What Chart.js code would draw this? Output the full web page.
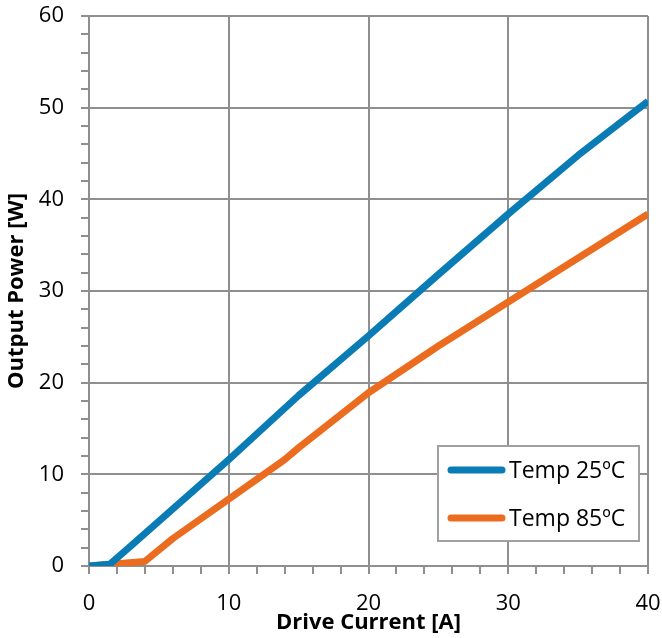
<!DOCTYPE html>
<html>
<head>
<meta charset="utf-8">
<script src="https://cdn.jsdelivr.net/npm/chart.js@4"></script>
<style>
  html, body { margin: 0; padding: 0; background: #ffffff; }
  #wrap { width: 662px; height: 638px; position: relative; }
</style>
</head>
<body>
<div id="wrap"><canvas id="c" width="662" height="638"></canvas></div>
<script>
// ---- data ----
const seriesLabels = ['Temp 25ºC', 'Temp 85ºC'];
const current25 = [0, 1.5, 3, 10, 15, 20, 25, 30, 35, 40];
const power25   = [0, 0.2, 2.2, 11.6, 18.6, 25.1, 31.8, 38.4, 44.8, 50.7];
const current85 = [0, 4, 6, 10, 14, 15, 20, 25, 30, 35, 40];
const power85   = [0, 0.5, 3.0, 7.3, 11.6, 12.9, 18.9, 24.0, 28.8, 33.6, 38.4];
const xTickMajor = [0, 10, 20, 30, 40];
const yTickMajor = [0, 10, 20, 30, 40, 50, 60];
const xTitle = 'Drive Current [A]';
const yTitle = 'Output Power [W]';

const BLUE = '#0a7cb5';
const ORANGE = '#eb6c1f';
const GRID = '#8f8f8f';
const FONT = '"Open Sans", "Liberation Sans", sans-serif';

function pts(xs, ys) { return xs.map((x, i) => ({ x: x, y: ys[i] })); }

const insideLegend = {
  id: 'insideLegend',
  afterDraw(chart) {
    const ctx = chart.ctx;
    const a = chart.chartArea;
    const bx = a.right - 210, by = a.bottom - 120, bw = 201, bh = 95;
    ctx.save();
    ctx.fillStyle = '#ffffff';
    ctx.fillRect(bx, by, bw, bh);
    ctx.strokeStyle = '#a0a0a0';
    ctx.lineWidth = 2;
    ctx.strokeRect(bx, by, bw, bh);
    ctx.font = '23px ' + FONT;
    ctx.textBaseline = 'middle';
    ctx.fillStyle = '#000000';
    chart.data.datasets.forEach((ds, i) => {
      const cy = by + 24 + i * 48;
      ctx.strokeStyle = ds.borderColor;
      ctx.lineWidth = 7;
      ctx.lineCap = 'round';
      ctx.beginPath();
      ctx.moveTo(bx + 13, cy);
      ctx.lineTo(bx + 64, cy);
      ctx.stroke();
      ctx.fillText(ds.label, bx + 71, cy + 1);
    });
    ctx.restore();
  }
};

const majorGrid = (ctx) => (ctx.tick && ctx.tick.value % 10 === 0) ? GRID : 'rgba(0,0,0,0)';

new Chart(document.getElementById('c'), {
  type: 'line',
  data: {
    datasets: [
      { label: seriesLabels[0], data: pts(current25, power25), borderColor: BLUE, backgroundColor: BLUE,
        borderWidth: 7, pointRadius: 0, tension: 0, borderJoinStyle: 'round', borderCapStyle: 'butt' },
      { label: seriesLabels[1], data: pts(current85, power85), borderColor: ORANGE, backgroundColor: ORANGE,
        borderWidth: 7, pointRadius: 0, tension: 0, borderJoinStyle: 'round', borderCapStyle: 'butt' }
    ]
  },
  options: {
    responsive: false,
    animation: false,
    devicePixelRatio: 1,
    layout: { padding: { top: 16, right: 14, bottom: 0, left: 0 } },
    plugins: { legend: { display: false }, tooltip: { enabled: false } },
    scales: {
      x: {
        type: 'linear', min: 0, max: 40,
        afterFit: (s) => { s.height = 72; s.paddingLeft = 0; s.paddingRight = 0; },
        ticks: {
          stepSize: 2, autoSkip: false, maxRotation: 0, padding: 17, color: '#000',
          font: { family: FONT, size: 22 },
          callback: (v) => xTickMajor.includes(v) ? String(v) : ''
        },
        grid: { color: majorGrid, tickColor: GRID, lineWidth: 2, tickLength: 8 },
        border: { color: GRID, width: 2 },
        title: { display: true, text: xTitle, color: '#000',
          font: { family: FONT, size: 22, weight: 'bold' }, padding: { top: 0, bottom: 2 } }
      },
      y: {
        type: 'linear', min: 0, max: 60,
        afterFit: (s) => { s.width = 89; s.paddingTop = 0; s.paddingBottom = 0; },
        ticks: {
          stepSize: 2, autoSkip: false, padding: 17, color: '#000',
          font: { family: FONT, size: 22 },
          callback: (v) => yTickMajor.includes(v) ? String(v) : ''
        },
        grid: { color: majorGrid, tickColor: GRID, lineWidth: 2, tickLength: 8 },
        border: { color: GRID, width: 2 },
        title: { display: true, text: yTitle, color: '#000',
          font: { family: FONT, size: 22, weight: 'bold' }, padding: { top: 4, bottom: 0 } }
      }
    }
  },
  plugins: [insideLegend]
});
</script>
</body>
</html>
